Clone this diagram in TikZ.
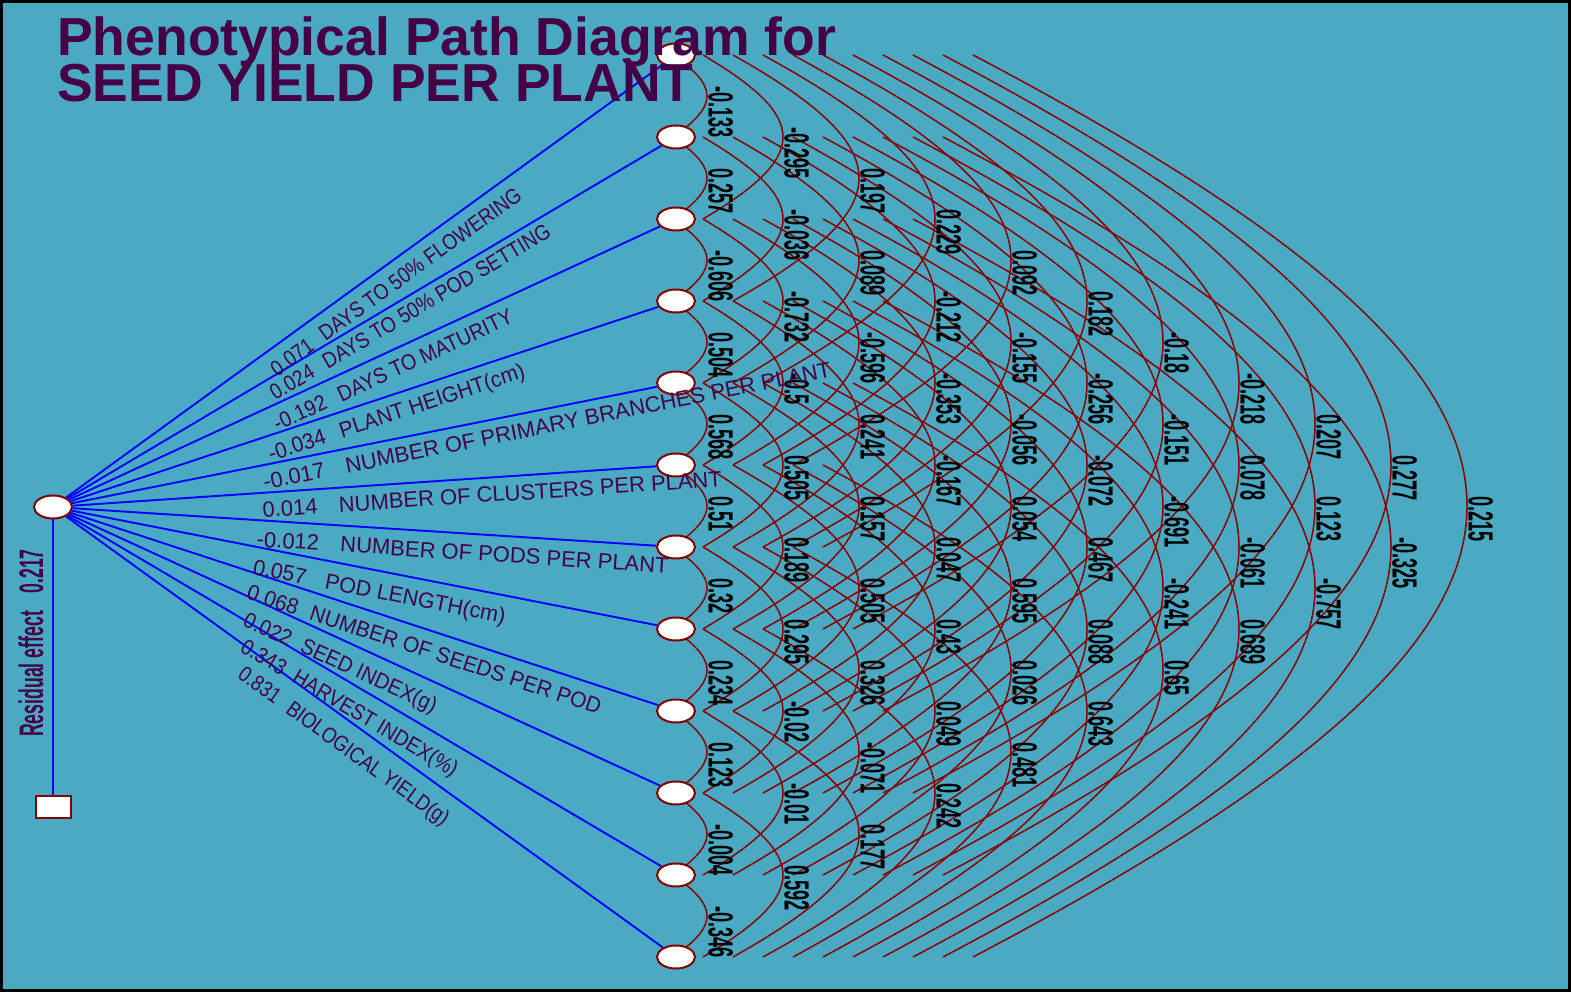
\documentclass[tikz,border=0pt]{standalone}
\usepackage{fontspec}
\setmainfont{Liberation Sans}
\usetikzlibrary{calc,shapes.geometric}
\pgfdeclarelayer{back}
\pgfdeclarelayer{mid}
\pgfsetlayers{back,mid,main}
\definecolor{bgc}{RGB}{74,170,196}
\definecolor{titlec}{RGB}{70,0,70}
\definecolor{arcc}{RGB}{139,0,0}
\definecolor{nodec}{RGB}{130,0,0}
\newcommand{\narrow}[1]{\scalebox{0.52}[1]{#1}}
\begin{document}
\begin{tikzpicture}[x=1pt,y=1pt,
  endo/.style={ellipse, draw=nodec, line width=2pt, fill=white, minimum width=38pt, minimum height=23pt, inner sep=0pt},
  resid/.style={rectangle, draw=nodec, line width=2pt, fill=white, minimum width=35pt, minimum height=22pt, inner sep=0pt},
  pathline/.style={draw=blue, line width=1.9pt},
  corrline/.style={draw=arcc, line width=1.5pt},
  clab/.style={font=\bfseries\fontsize{35}{35}\selectfont, text=black, inner sep=0pt, rotate=-90, anchor=south west},
  plab/.style={font=\fontsize{22}{22}\selectfont, text=titlec, inner sep=0pt},
  ttl/.style={font=\bfseries\fontsize{53.5}{53.5}\selectfont, text=titlec, inner sep=0pt, anchor=base west},
  restxt/.style={font=\bfseries\fontsize{34}{34}\selectfont, text=titlec, inner sep=0pt, rotate=90}
]
\begin{pgfonlayer}{back}
\fill[bgc] (0,0) rectangle (1571,992);
\end{pgfonlayer}
\useasboundingbox (0,0) rectangle (1571,992);

% nodes
\node[endo] (L) at (53,485) {};
\node[resid] (S) at (53,185) {};
\foreach \i in {0,...,11} \node[endo] (R\i) at (676,{937-82*\i}) {};

% correlation arcs and path lines
\begin{pgfonlayer}{mid}
\foreach \i in {0,...,10}{
  \pgfmathtruncatemacro{\js}{\i+1}
  \foreach \j in {\js,...,11}{
    \pgfmathsetmacro{\dist}{\j-\i}
    \pgfmathsetmacro{\mydx}{30*\dist-33}
    \pgfmathsetmacro{\myax}{(46*\dist-12)/0.75}
    \pgfmathsetmacro{\mycy}{31.5*\dist}
    \draw[corrline] ([xshift=\mydx pt]R\i.center) .. controls +(\myax pt,-\mycy pt) and +(\myax pt,\mycy pt) .. ([xshift=\mydx pt]R\j.center);
  }
}
\foreach \i in {0,...,11} \draw[pathline] (L) -- (R\i);
\draw[pathline] (L) -- (S);
\end{pgfonlayer}

% correlation labels
\foreach \dist/\lst in {
  1/{-0.133,0.257,-0.606,0.504,0.568,0.51,0.32,0.234,0.123,-0.004,-0.346},
  2/{-0.295,-0.036,-0.732,-0.5,0.505,0.189,0.295,-0.02,-0.01,0.592},
  3/{0.197,0.089,-0.596,0.241,0.157,0.505,0.326,-0.071,0.177},
  4/{0.229,-0.212,-0.353,-0.167,0.047,0.43,0.049,0.242},
  5/{0.092,-0.155,-0.056,0.054,0.595,0.026,0.481},
  6/{0.182,-0.256,-0.072,0.467,0.088,0.643},
  7/{-0.18,-0.151,-0.691,-0.241,0.65},
  8/{-0.218,0.078,-0.061,0.689},
  9/{0.207,0.123,-0.757},
  10/{0.277,-0.325},
  11/{0.215}}{
  \pgfmathsetmacro{\tx}{76*\dist-44}
  \foreach \v [count=\k from 0] in \lst {
    \pgfmathtruncatemacro{\jj}{\k+\dist}
    \node[clab] (c\k-\jj) at ($(R\k.center)!0.5!(R\jj.center)+(\tx,10)$) {\narrow{\v}};
  }
}

% path labels: index/value/name/value centre x/value centre y (from top)/width ratio/gap
\foreach \i/\val/\nm/\vx/\vy/\rr/\gp in {
  0/0.071/DAYS TO 50\% FLOWERING/292/357/0.86/12,
  1/0.024/DAYS TO 50\% POD SETTING/292/382/0.87/13,
  2/-0.192/DAYS TO MATURITY/300/413/0.90/14,
  3/-0.034/PLANT HEIGHT(cm)/297/445/0.95/15,
  4/-0.017/NUMBER OF PRIMARY BRANCHES PER PLANT/294/476/1.0/21,
  5/0.014/NUMBER OF CLUSTERS PER PLANT/290/508/1.0/21,
  6/-0.012/NUMBER OF PODS PER PLANT/288/541/1.0/21,
  7/0.057/POD LENGTH(cm)/280/572/0.98/19,
  8/0.068/NUMBER OF SEEDS PER POD/273/600/0.96/13,
  9/0.022/SEED INDEX(g)/268/629/0.92/12,
  10/0.343/HARVEST INDEX(\%)/264/657/0.89/11,
  11/0.831/BIOLOGICAL YIELD(g)/260/685/0.85/12}{
  \pgfmathsetmacro{\ang}{atan((452-82*\i)/623)}
  \node[plab, rotate=\ang] (v\i) at (\vx,{992-\vy}) {\scalebox{\rr}[1]{\val}};
  \node[plab, rotate=\ang, anchor=base west] (n\i) at ($(v\i.base east)+(\ang:\gp)$) {\scalebox{\rr}[1]{\nm}};
}

% residual
\node[restxt] (res) at (31,349) {\narrow{Residual effect\hspace{1em}0.217}};

% title
\node[ttl] (t1) at (57,936) {Phenotypical Path Diagram for};
\node[ttl] (t2) at (57,890) {SEED YIELD PER PLANT};

% frame
\draw[line width=3pt] (1.5,1.5) rectangle (1569.5,990.5);
\end{tikzpicture}
\end{document}
